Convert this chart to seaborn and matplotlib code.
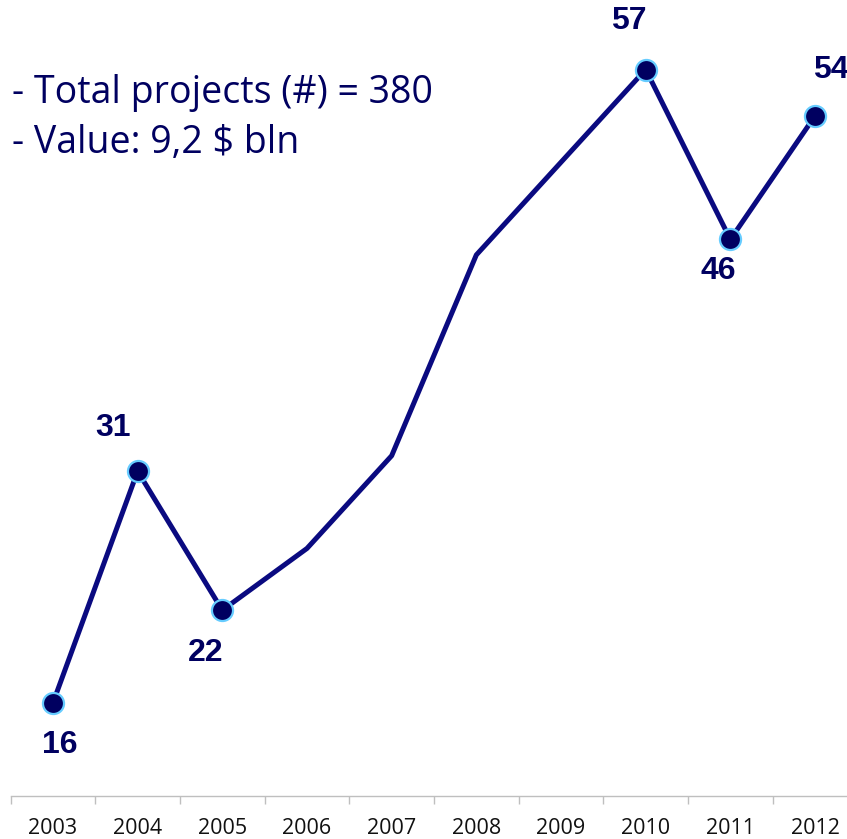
import seaborn as sns
import matplotlib.pyplot as plt
import pandas as pd

# data
years = [2003, 2004, 2005, 2006, 2007, 2008, 2009, 2010, 2011, 2012]
projects = [16, 31, 22, 26, 32, 45, 51, 57, 46, 54]
labelled_years = [2003, 2004, 2005, 2010, 2011, 2012]
# label offsets in points (dx, dy) from the marker
label_offsets = {2003: (5, -30), 2004: (-18, 31), 2005: (-12, -31),
                 2010: (-12, 35), 2011: (-9, -23), 2012: (11, 33)}
info_lines = ['- Total projects (#) = 380', '- Value: 9,2 $ bln']

line_color = '#0a0a80'
dot_color = '#000060'
edge_color = '#66ccff'

df = pd.DataFrame({'year': years, 'projects': projects})
pts = df[df['year'].isin(labelled_years)]

sns.set_style('white')
fig = plt.figure(figsize=(8.47, 8.39), dpi=100)
ax = fig.add_axes([10.6 / 847, 43.4 / 839, 846.8 / 847, 795.6 / 839])

sns.lineplot(data=df, x='year', y='projects', color=line_color, linewidth=3.6, ax=ax)
sns.scatterplot(data=pts, x='year', y='projects', color=dot_color, s=230,
                edgecolor=edge_color, linewidth=1.6, zorder=3, ax=ax)

for _, row in pts.iterrows():
    dx, dy = label_offsets[row['year']]
    ax.annotate(str(row['projects']), (row['year'], row['projects']),
                xytext=(dx, dy), textcoords='offset points', ha='center', va='center',
                fontsize=23, fontweight='bold', color=dot_color, family='Liberation Sans')

ax.text(12 / 847, 1 - 93 / 839, info_lines[0], transform=fig.transFigure,
        fontsize=27, color=dot_color, family='Open Sans', va='center')
ax.text(12 / 847, 1 - 143 / 839, info_lines[1], transform=fig.transFigure,
        fontsize=27, color=dot_color, family='Open Sans', va='center')

ax.set_xlim(2002.5, 2012.5)
ax.set_ylim(10, 61.5)
ax.set_xticks(years)
ax.set_xticklabels([str(y) for y in years], fontsize=15.5, family='Open Sans', color='#111111')
ax.set_xticks([y + 0.5 for y in [2002] + years[:-1]], minor=True)
ax.tick_params(axis='x', which='major', length=0, pad=16)
ax.tick_params(axis='x', which='minor', length=6, width=1, color='#bfbfbf', direction='out', bottom=True)
ax.set_yticks([])
ax.set_xlabel('')
ax.set_ylabel('')
for side in ['top', 'right', 'left']:
    ax.spines[side].set_visible(False)
ax.spines['bottom'].set_color('#bfbfbf')
ax.spines['bottom'].set_linewidth(1)

plt.savefig('out.png', dpi=100)
